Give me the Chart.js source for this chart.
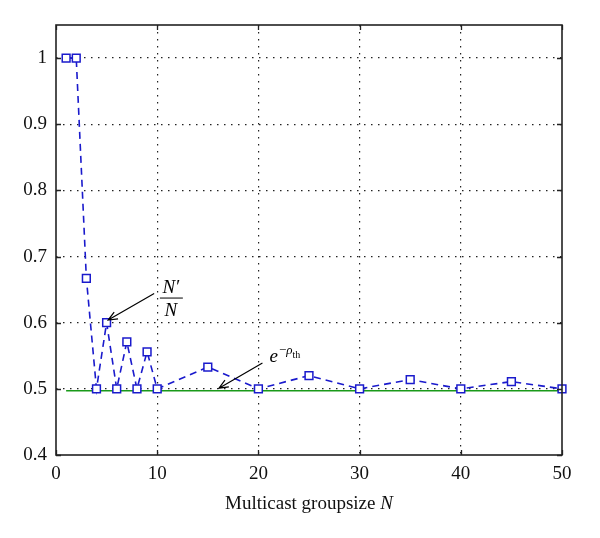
<!DOCTYPE html>
<html>
<head>
<meta charset="utf-8">
<script src="https://cdn.jsdelivr.net/npm/chart.js@4"></script>
<style>
  html, body { margin: 0; padding: 0; background: #fff; }
  #wrap { width: 600px; height: 538px; }
</style>
</head>
<body>
<div id="wrap"><canvas id="chart"></canvas></div>
<script>
// group sizes and ratio N'/N
const groupSizes = [1, 2, 3, 4, 5, 6, 7, 8, 9, 10, 15, 20, 25, 30, 35, 40, 45, 50];
const ratio = [1, 1, 0.667, 0.5, 0.6, 0.5, 0.571, 0.5, 0.556, 0.5, 0.533, 0.5, 0.52, 0.5, 0.514, 0.5, 0.511, 0.5];
// threshold e^{-rho_th}
const thresholdX = [1, 50];
const thresholdY = [0.497, 0.497];

const xTicks = [0, 10, 20, 30, 40, 50];
const yTicks = [0.4, 0.5, 0.6, 0.7, 0.8, 0.9, 1];

const serif = '"Liberation Serif", "DejaVu Serif", serif';

const frame = {
  id: 'frame',
  afterDraw(chart) {
    const { ctx, chartArea: a, scales: { x, y } } = chart;
    ctx.save();
    // inner tick marks
    ctx.strokeStyle = '#222';
    ctx.lineWidth = 1.3;
    ctx.beginPath();
    xTicks.forEach(v => {
      const px = Math.round(x.getPixelForValue(v)) + 0.5;
      ctx.moveTo(px, a.bottom); ctx.lineTo(px, a.bottom - 5);
      ctx.moveTo(px, a.top); ctx.lineTo(px, a.top + 5);
    });
    yTicks.forEach(v => {
      const py = Math.round(y.getPixelForValue(v)) + 0.5;
      ctx.moveTo(a.left, py); ctx.lineTo(a.left + 5, py);
      ctx.moveTo(a.right, py); ctx.lineTo(a.right - 5, py);
    });
    ctx.stroke();
    // box
    ctx.lineWidth = 1.6;
    ctx.strokeRect(a.left, a.top, a.right - a.left, a.bottom - a.top);

    // x axis title with italic N
    ctx.fillStyle = '#111';
    ctx.textBaseline = 'alphabetic';
    ctx.textAlign = 'left';
    ctx.font = '19px ' + serif;
    const t1 = 'Multicast groupsize ';
    const w1 = ctx.measureText(t1).width;
    ctx.font = 'italic 19px ' + serif;
    const w2 = ctx.measureText('N').width;
    const tx = (a.left + a.right) / 2 - (w1 + w2) / 2;
    ctx.font = '19px ' + serif;
    ctx.fillText(t1, tx, 509);
    ctx.font = 'italic 19px ' + serif;
    ctx.fillText('N', tx + w1, 509);

    // annotations
    const arrow = (x0, y0, x1, y1) => {
      const sx = x.getPixelForValue(x0), sy = y.getPixelForValue(y0);
      const ex = x.getPixelForValue(x1), ey = y.getPixelForValue(y1);
      const ang = Math.atan2(ey - sy, ex - sx);
      ctx.strokeStyle = '#000';
      ctx.lineWidth = 1.2;
      ctx.beginPath();
      ctx.moveTo(sx, sy); ctx.lineTo(ex, ey);
      ctx.moveTo(ex - 10 * Math.cos(ang - 0.4), ey - 10 * Math.sin(ang - 0.4));
      ctx.lineTo(ex, ey);
      ctx.lineTo(ex - 10 * Math.cos(ang + 0.4), ey - 10 * Math.sin(ang + 0.4));
      ctx.stroke();
    };
    arrow(9.7, 0.644, 5.15, 0.604);
    arrow(20.4, 0.539, 16.1, 0.501);

    ctx.fillStyle = '#000';
    ctx.textAlign = 'center';
    // N'/N
    const fx = x.getPixelForValue(11.35), fy = y.getPixelForValue(0.638);
    ctx.font = 'italic 19px ' + serif;
    ctx.fillText('N\u2032', fx, fy - 5);
    ctx.fillText('N', fx, fy + 18);
    ctx.beginPath();
    ctx.lineWidth = 1;
    ctx.moveTo(fx - 11, fy + 0.5); ctx.lineTo(fx + 12, fy + 0.5);
    ctx.stroke();
    // e^{-rho_th}
    ctx.textAlign = 'left';
    const ex = x.getPixelForValue(21.1), ey = y.getPixelForValue(0.54);
    ctx.font = 'italic 19px ' + serif;
    ctx.fillText('e', ex, ey);
    let w = ctx.measureText('e').width + 1;
    ctx.font = '13px ' + serif;
    ctx.fillText('\u2212', ex + w, ey - 8);
    w += ctx.measureText('\u2212').width;
    ctx.font = 'italic 13px ' + serif;
    ctx.fillText('\u03C1', ex + w, ey - 8);
    w += ctx.measureText('\u03C1').width;
    ctx.font = '10px ' + serif;
    ctx.fillText('th', ex + w, ey - 4);
    ctx.restore();
  }
};

new Chart(document.getElementById('chart'), {
  type: 'scatter',
  data: {
    datasets: [
      {
        label: "N'/N",
        data: groupSizes.map((n, i) => ({ x: n, y: ratio[i] })),
        showLine: true,
        clip: false,
        borderColor: '#1a1acc',
        borderWidth: 1.6,
        borderDash: [7, 5],
        pointStyle: 'rect',
        pointRadius: 5.5,
        pointBorderWidth: 1.5,
        pointBorderColor: '#1a1acc',
        pointBackgroundColor: '#fff'
      },
      {
        label: 'threshold',
        data: thresholdX.map((v, i) => ({ x: v, y: thresholdY[i] })),
        showLine: true,
        borderColor: '#1a9a1a',
        borderWidth: 1.5,
        pointRadius: 0,
        order: 1
      }
    ]
  },
  options: {
    responsive: true,
    maintainAspectRatio: false,
    animation: false,
    layout: { padding: { top: 25, right: 38, left: 0, bottom: 0 } },
    plugins: {
      legend: { display: false },
      tooltip: { enabled: false }
    },
    scales: {
      x: {
        type: 'linear',
        min: 0,
        max: 50,
        afterBuildTicks: s => { s.ticks = xTicks.map(v => ({ value: v })); },
        afterFit: s => { s.height = 83; },
        border: { display: false, dash: [1.5, 5.5] },
        grid: {
          drawTicks: false,
          color: ctx => (ctx.tick && (ctx.tick.value === 0 || ctx.tick.value === 50)) ? 'rgba(0,0,0,0)' : '#222',
          lineWidth: 1.2
        },
        ticks: {
          padding: 8,
          color: '#111',
          font: { family: serif, size: 19 }
        }
      },
      y: {
        type: 'linear',
        min: 0.4,
        max: 1.05,
        afterBuildTicks: s => { s.ticks = yTicks.map(v => ({ value: v })); },
        afterFit: s => { s.width = 56; },
        border: { display: false, dash: [1.5, 5.5] },
        grid: {
          drawTicks: false,
          color: ctx => (ctx.tick && ctx.tick.value === 0.4) ? 'rgba(0,0,0,0)' : '#222',
          lineWidth: 1.2
        },
        ticks: {
          padding: 9,
          color: '#111',
          font: { family: serif, size: 19 },
          callback: v => String(Math.round(v * 10) / 10)
        }
      }
    }
  },
  plugins: [frame]
});
</script>
</body>
</html>
